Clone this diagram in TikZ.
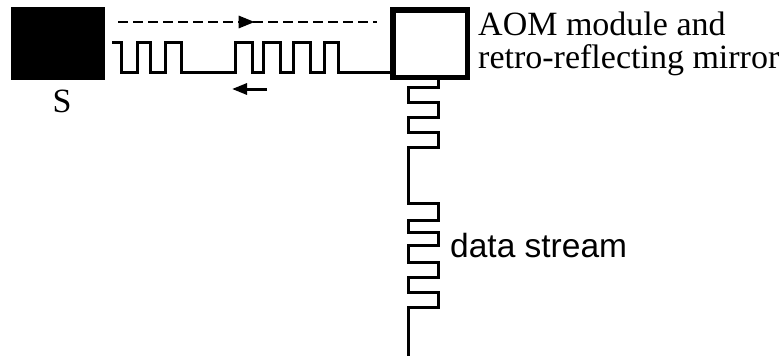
\documentclass[tikz,border=0pt]{standalone}
\usepackage{fontspec}
\setmainfont{Liberation Serif}
\newfontfamily\streamfont{Liberation Sans}
\usepackage{tikz}
\usetikzlibrary{positioning,arrows.meta,decorations.markings}

\begin{document}
\begin{tikzpicture}[x=1pt, y=-1pt,
    wave/.style={line width=3pt},
    beam/.style={line width=2.8pt, dash pattern=on 10pt off 5pt},
    lbl/.style={font=\fontsize{34}{40}\selectfont, inner sep=0pt}]
    \useasboundingbox (0,0) rectangle (781,356);

    % Source block
    \node[fill=black, minimum width=94pt, minimum height=73pt, inner sep=0pt] (src) at (58,43.5) {};
    \node[lbl, anchor=base] (srclabel) at (62,112) {S};

    % AOM module with retro-reflector
    \node[draw, line width=5.5pt, minimum width=74.5pt, minimum height=67.5pt, inner sep=0pt] (aom) at (430,43.5) {};
    \node[lbl, anchor=base west] (aomtext) at (478,35) {AOM module and};
    \node[lbl, anchor=base west] (aomtext2) at ([yshift=-33pt]aomtext.base west) {retro-reflecting mirror};

    % Outgoing beam (dashed)
    \draw[beam, shorten <=13pt, shorten >=13pt, postaction={decorate},
        decoration={markings, mark=at position 0.525 with {\arrow{Triangle[length=16pt,width=12pt]}}}]
        (src.east |- 0,22) -- (aom.west |- 0,22);

    % Modulated return (horizontal)
    \coordinate (hstart) at (112,42);
    \draw[wave] (hstart) \foreach \a/\b in {121/137,150/165,181/235,252/263,280/293,310/324} { -- (\a,42) -- (\a,72) -- (\b,72) -- (\b,42) } -- (338,42) -- (338,72) -- (aom.west |- 0,72);

    % Return direction
    \coordinate (rettail) at (267,89);
    \coordinate (rethead) at (232,89);
    \draw[wave, -{Triangle[length=15pt,width=11pt]}] (rettail) -- (rethead);

    % Data stream (vertical)
    \coordinate (vend) at (408,356);
    \draw[wave] (aom.south -| 438,0) \foreach \a/\b in {87/102,117/132,147/203,220/232,245/262,277/292} { -- (438,\a) -- (408,\a) -- (408,\b) -- (438,\b) } -- (438,307) -- (408,307) -- (vend);
    \node[font=\streamfont\fontsize{33.5}{40}\selectfont, inner sep=0pt, anchor=base west] (streamlbl) at (450,257) {data stream};
\end{tikzpicture}
\end{document}
